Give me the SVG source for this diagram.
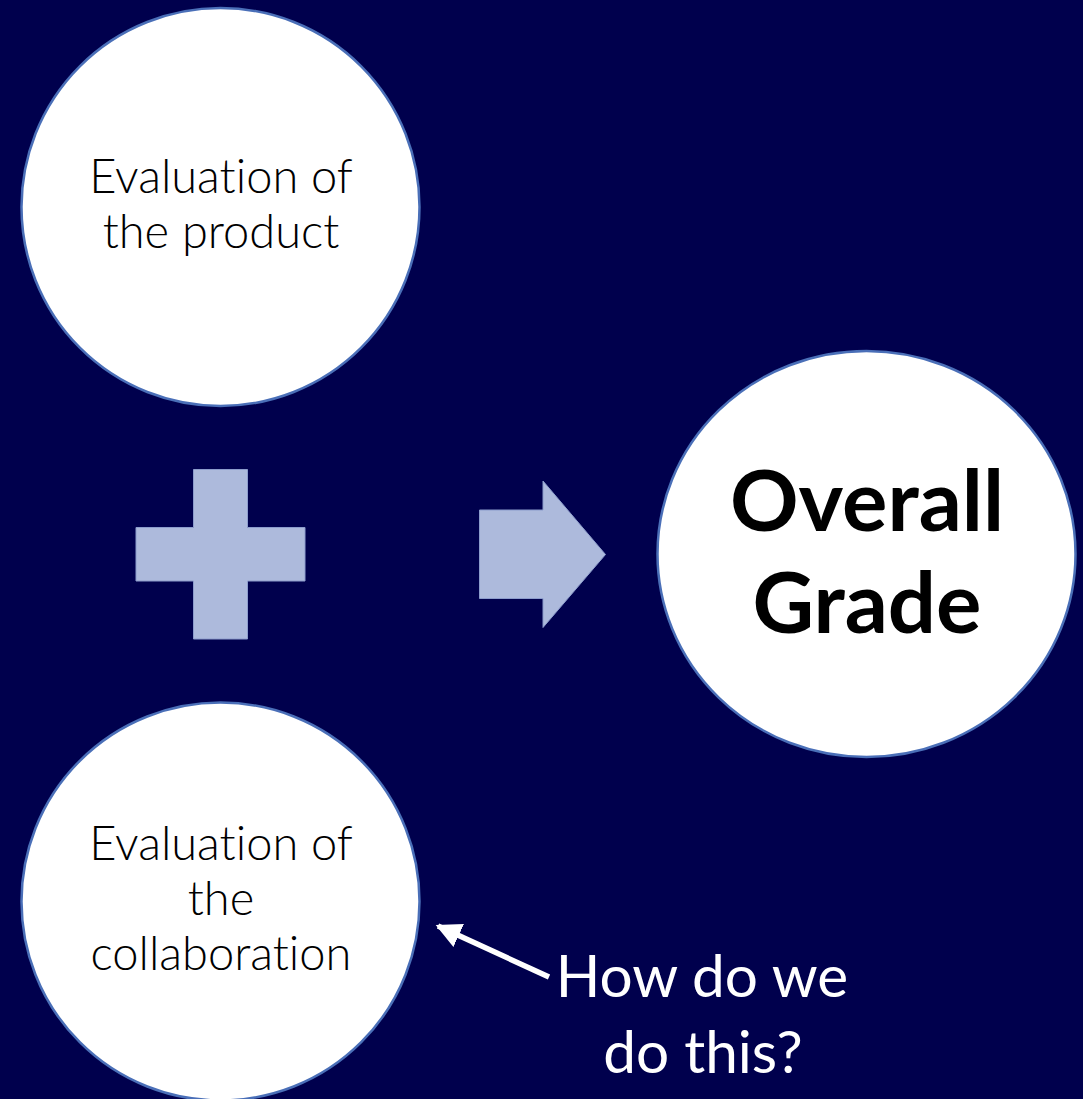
<svg xmlns="http://www.w3.org/2000/svg" width="1083" height="1099" viewBox="0 0 1083 1099">
  <style>
    text { font-variant-ligatures: none; font-feature-settings: "liga" 0; }
    .node { fill: #ffffff; stroke: #4a6fb8; stroke-width: 2.5; }
    .shape { fill: #adbadc; stroke: #8c9ccc; stroke-width: 1; }
    .light { font-family: Lato, "Open Sans", "Liberation Sans", sans-serif; font-weight: 300; font-size: 47px; fill: #000000; text-anchor: middle; }
    .bold { font-family: Lato, "Open Sans", "Liberation Sans", sans-serif; font-weight: 700; font-size: 85px; fill: #000000; text-anchor: middle; }
    .note { font-family: Lato, "Open Sans", "Liberation Sans", sans-serif; font-weight: 400; font-size: 58.5px; fill: #ffffff; text-anchor: middle; }
  </style>
  <defs>
    <marker id="head" viewBox="0 0 10 10" refX="9" refY="5" markerWidth="4.6" markerHeight="4.6" orient="auto">
      <path d="M0,0 L10,5 L0,10 z" fill="#ffffff"/>
    </marker>
  </defs>

  <rect x="0" y="0" width="1083" height="1099" fill="#00004d"/>

  <g id="product">
    <circle class="node" cx="220.5" cy="207" r="199"/>
    <text class="light" x="221" y="193">Evaluation of</text>
    <text class="light" x="221" y="248">the product</text>
  </g>

  <g id="plus">
    <path class="shape" d="M193.5,469.5 H247.5 V527.5 H305 V581 H247.5 V639 H193.5 V581 H136 V527.5 H193.5 Z"/>
  </g>

  <g id="yields">
    <path class="shape" d="M479.5,510 H543 V481 L605.5,554.5 L543,627.5 V598.5 H479.5 Z"/>
  </g>

  <g id="grade">
    <ellipse class="node" cx="866.5" cy="554" rx="209" ry="203"/>
    <text class="bold" x="867" y="531">Overall</text>
    <text class="bold" x="867" y="633">Grade</text>
  </g>

  <g id="collaboration">
    <circle class="node" cx="220.5" cy="901.5" r="199"/>
    <text class="light" x="221" y="860">Evaluation of</text>
    <text class="light" x="221" y="915">the</text>
    <text class="light" x="221" y="970">collaboration</text>
  </g>

  <g id="question">
    <text class="note" x="702" y="997">How do we</text>
    <text class="note" x="703" y="1073">do this?</text>
  </g>

  <g id="connectors">
    <line x1="549" y1="977" x2="438" y2="926" stroke="#ffffff" stroke-width="5.5" marker-end="url(#head)"/>
  </g>
</svg>
